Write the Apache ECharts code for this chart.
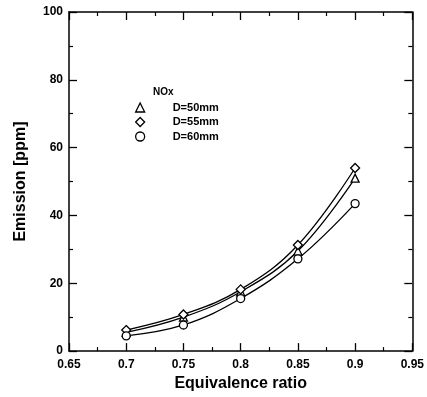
<!DOCTYPE html>
<html>
<head>
<meta charset="utf-8">
<script src="https://cdn.jsdelivr.net/npm/echarts@6/dist/echarts.min.js"></script>
<style>
  html, body { margin: 0; padding: 0; background: #fff; }
  #chart { width: 427px; height: 397px; }
</style>
</head>
<body>
<div id="chart"></div>
<script>
// equivalence ratio (x)
const ratios = [0.7, 0.75, 0.8, 0.85, 0.9];
// NOx emission, ppm
const nox50 = [5.5, 10, 17.5, 29.5, 51];
const nox55 = [6.2, 10.8, 18.2, 31.3, 54];
const nox60 = [4.5, 7.7, 15.5, 27.2, 43.5];
const seriesNames = ['D=50mm', 'D=55mm', 'D=60mm'];

const font = 'Liberation Sans, Arial, sans-serif';
const chart = echarts.init(document.getElementById('chart'));

const pair = (ys) => ratios.map((x, i) => [x, ys[i]]);
const fmt = (v) => String(+v.toFixed(2));

const mkSeries = (name, ys, symbol, size) => ({
  name,
  type: 'line',
  data: pair(ys),
  smooth: 0.4,
  symbol,
  symbolSize: size,
  showAllSymbol: true,
  lineStyle: { color: '#000', width: 1.3 },
  itemStyle: { color: '#fff', borderColor: '#000', borderWidth: 1.3 },
  emphasis: { disabled: true },
  z: 3,
});

const xBase = {
  type: 'value', min: 0.65, max: 0.95, interval: 0.05,
  axisLine: { show: true, onZero: false, lineStyle: { color: '#000', width: 1.5 } },
  axisTick: { show: true, inside: true, length: 8, lineStyle: { color: '#000', width: 1.3 } },
  minorTick: { show: true, splitNumber: 2, length: 4, lineStyle: { color: '#000', width: 1.2 } },
  splitLine: { show: false },
};
const yBase = {
  type: 'value', min: 0, max: 100, interval: 20,
  axisLine: { show: true, onZero: false, lineStyle: { color: '#000', width: 1.5 } },
  axisTick: { show: true, inside: true, length: 8, lineStyle: { color: '#000', width: 1.3 } },
  minorTick: { show: true, splitNumber: 2, length: 4, lineStyle: { color: '#000', width: 1.2 } },
  splitLine: { show: false },
};

chart.setOption({
  backgroundColor: '#fff',
  animation: false,
  grid: { left: 69, right: 14, top: 12, bottom: 43 },
  xAxis: [
    {
      ...xBase,
      position: 'bottom',
      name: 'Equivalence ratio',
      nameLocation: 'middle',
      nameGap: 24,
      nameTextStyle: { fontFamily: font, fontWeight: 'bold', fontSize: 16, color: '#000' },
      axisLabel: { fontFamily: font, fontWeight: 'bold', fontSize: 12, color: '#000', margin: 8, formatter: fmt },
    },
    { ...xBase, position: 'top', axisLabel: { show: false } },
  ],
  yAxis: [
    {
      ...yBase,
      position: 'left',
      name: 'Emission [ppm]',
      nameLocation: 'middle',
      nameGap: 40,
      nameTextStyle: { fontFamily: font, fontWeight: 'bold', fontSize: 16, color: '#000' },
      axisLabel: { fontFamily: font, fontWeight: 'bold', fontSize: 12, color: '#000', margin: 6 },
    },
    { ...yBase, position: 'right', axisLabel: { show: false } },
  ],
  legend: {
    orient: 'vertical',
    left: 135,
    top: 102,
    padding: 0,
    itemWidth: 9,
    itemHeight: 9,
    itemGap: 3.5,
    selectedMode: false,
    textStyle: { fontFamily: font, fontWeight: 'bold', fontSize: 11, lineHeight: 9, color: '#000', padding: [0, 0, 0, 23] },
    itemStyle: { color: '#fff', borderColor: '#000', borderWidth: 1.3 },
    data: [
      { name: seriesNames[0], icon: 'triangle' },
      { name: seriesNames[1], icon: 'diamond' },
      { name: seriesNames[2], icon: 'circle' },
    ],
  },
  graphic: [
    {
      type: 'text', left: 153, top: 87,
      style: { text: 'NOx', font: 'bold 10px ' + font, fill: '#000' },
    },
  ],
  series: [
    mkSeries(seriesNames[0], nox50, 'triangle', 8),
    mkSeries(seriesNames[1], nox55, 'diamond', 9),
    mkSeries(seriesNames[2], nox60, 'circle', 8),
  ],
});
</script>
</body>
</html>
